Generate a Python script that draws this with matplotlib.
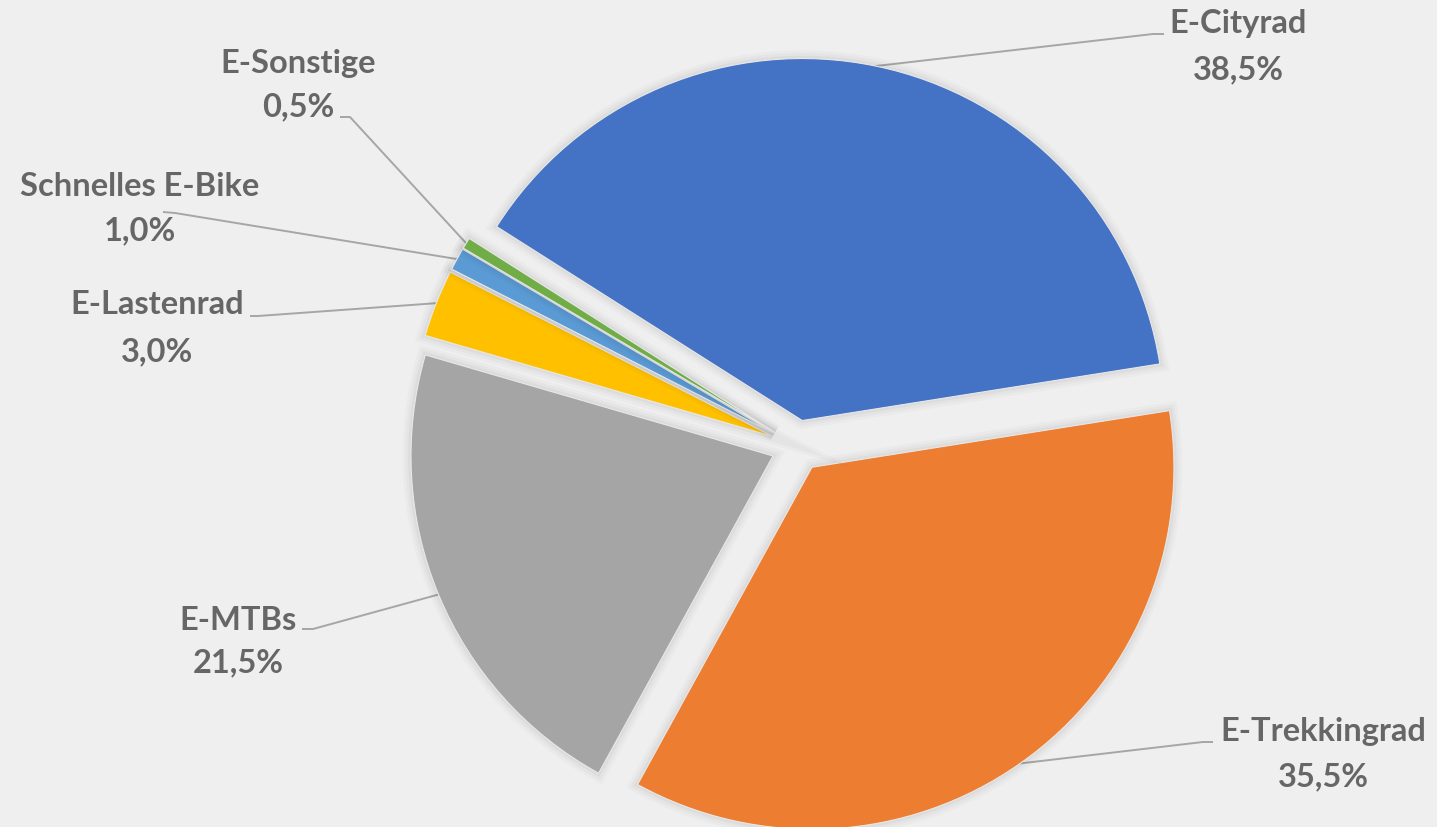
import matplotlib
matplotlib.use('Agg')
import matplotlib.pyplot as plt
import numpy as np
from matplotlib import patheffects as pe

# ---- data ----
categories = ['E-Cityrad', 'E-Trekkingrad', 'E-MTBs', 'E-Lastenrad',
              'Schnelles E-Bike', 'E-Sonstige']
shares = [38.5, 35.5, 21.5, 3.0, 1.0, 0.5]
colors = ['#4472C4', '#ED7D31', '#A5A5A5', '#FFC000', '#5B9BD5', '#70AD47']

# ---- layout (pixel coordinates, y downwards) ----
W, H = 1437, 827
center_px = (797, 446)
radius = 362
explode_px = 26
start_angle = 147.6

# label centers: (x, y of name, y of percent)
label_pos = [(1238, 23, 70), (1323, 732, 777), (238, 620, 663),
             (157, 304, 352), (140, 187, 231), (298, 63, 107)]
# leader line: text-side point and elbow
leader_pts = [((1164, 34), (1153, 34)), ((1213, 742), (1203, 742)),
              ((302, 629), (313, 629)), ((250, 316), (258, 316)),
              ((163, 212), (175, 213)), ((340, 117), (350, 117))]

bg = '#efefef'
text_color = '#666666'
line_color = '#a6a6a6'

fig = plt.figure(figsize=(W / 100, H / 100), dpi=100)
fig.patch.set_facecolor(bg)
ax = fig.add_axes([0, 0, 1, 1])
ax.set_facecolor(bg)

wedges, _ = ax.pie(shares, colors=colors, startangle=start_angle,
                   counterclock=False, radius=radius,
                   center=(center_px[0], H - center_px[1]),
                   explode=[explode_px] * len(shares),
                   wedgeprops=dict(edgecolor='#e8e8e8', linewidth=0.8))

shadow = [pe.Stroke(linewidth=12, foreground='black', alpha=0.02),
          pe.Stroke(linewidth=8, foreground='black', alpha=0.025),
          pe.Stroke(linewidth=4, foreground='black', alpha=0.03),
          pe.Normal()]
for w in wedges:
    w.set_path_effects(shadow)

ax.set_xlim(0, W)
ax.set_ylim(0, H)
ax.set_aspect('equal')
ax.axis('off')

font = dict(family=['Lato', 'DejaVu Sans'], fontweight='bold',
            fontsize=23.5, color=text_color, ha='center', va='center')

for w, name, v, (lx, ly1, ly2), (tp, ep) in zip(wedges, categories, shares,
                                                 label_pos, leader_pts):
    ax.text(lx, H - ly1, name, **font)
    ax.text(lx, H - ly2, f"{v:.1f}%".replace('.', ','), **font)
    mid = np.deg2rad(0.5 * (w.theta1 + w.theta2))
    cx, cy = w.center
    ax_x = cx + w.r * np.cos(mid)
    ax_y = cy + w.r * np.sin(mid)
    ax.plot([tp[0], ep[0], ax_x], [H - tp[1], H - ep[1], ax_y],
            color=line_color, lw=1.4, solid_capstyle='butt', zorder=0.5)

fig.savefig('out.png', dpi=100, facecolor=bg)
